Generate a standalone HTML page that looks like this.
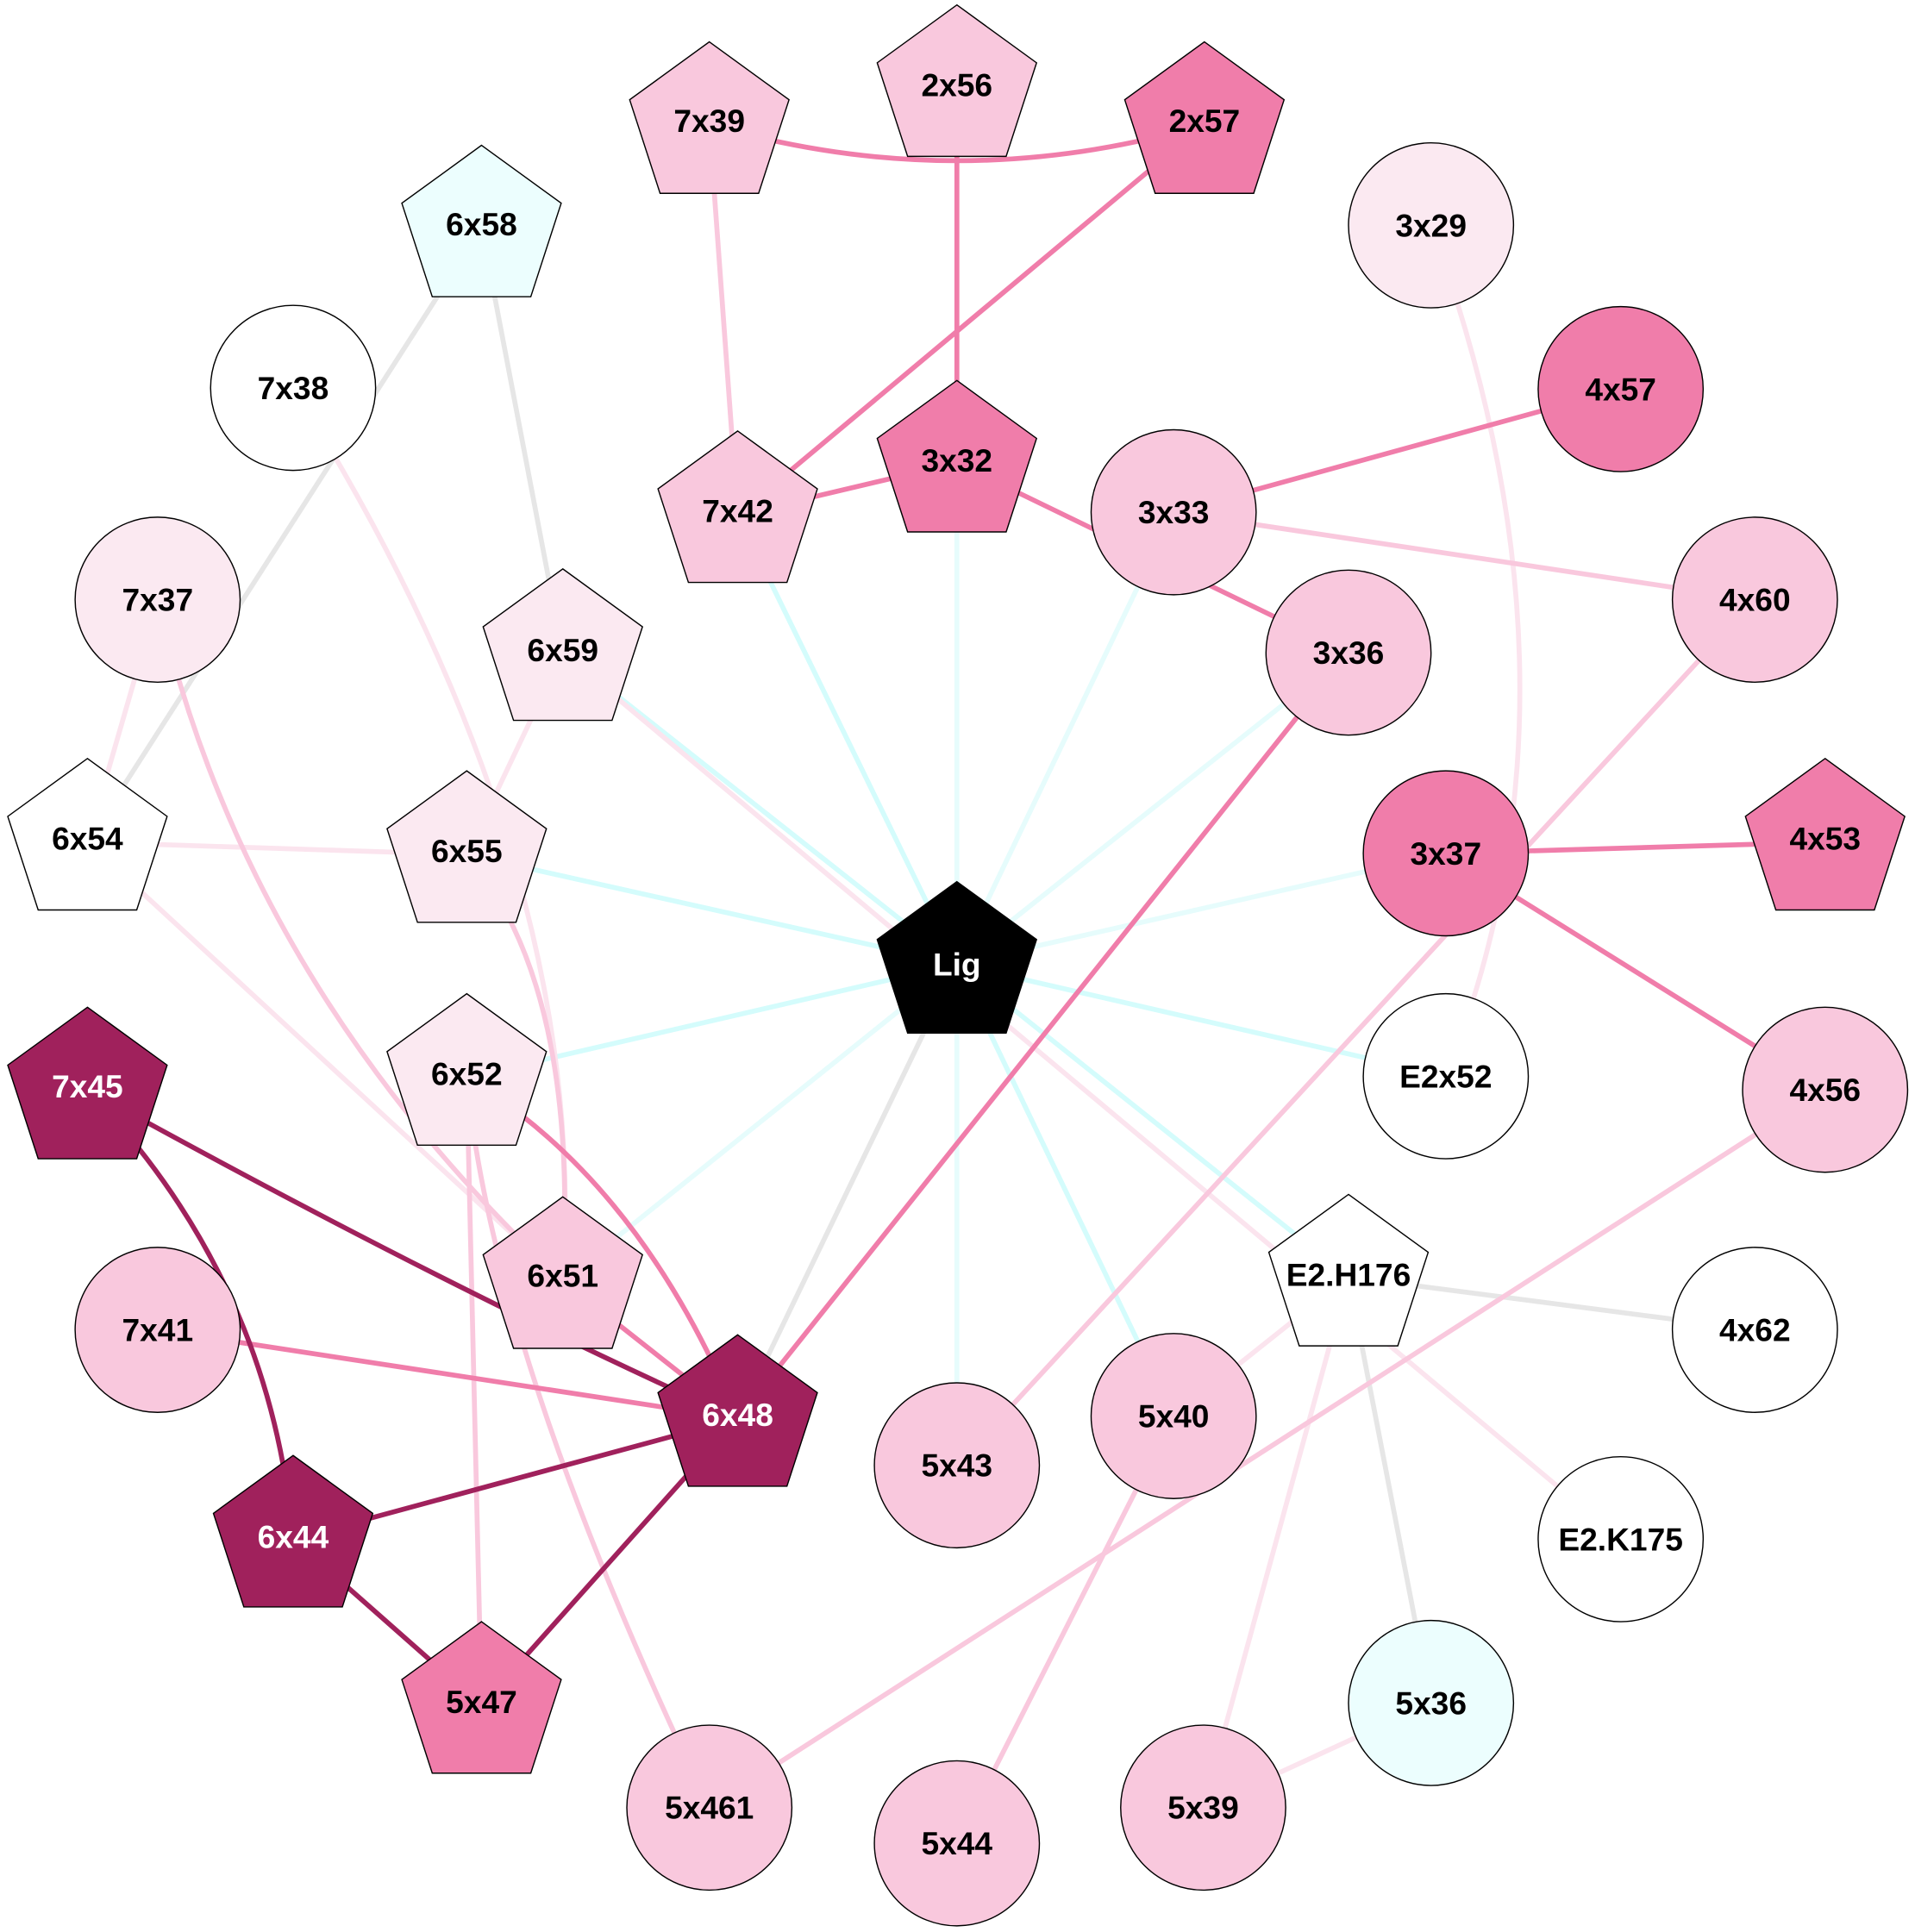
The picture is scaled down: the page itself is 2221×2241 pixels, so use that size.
<!DOCTYPE html>
<html><head><meta charset="utf-8"><style>html,body{margin:0;padding:0;background:#fff}svg{display:block}</style></head>
<body>
<svg width="2221" height="2241" viewBox="0 0 1555 1569" xmlns="http://www.w3.org/2000/svg">
<defs>
<polygon id="p" points="0,-68 64.7,-21 40,55 -40,55 -64.7,-21" stroke="#000" stroke-width="1"/>
</defs>
<g fill="none" stroke-width="4">
<g stroke="#d4fcfc">
<line x1="777" y1="783" x2="457" y2="530"/>
<line x1="777" y1="783" x2="379" y2="694"/>
<line x1="777" y1="783" x2="379" y2="875"/>
<line x1="777" y1="783" x2="457" y2="1040" stroke="#e6fcfc"/>
<line x1="777" y1="783" x2="599" y2="418"/>
<line x1="777" y1="783" x2="777" y2="376" stroke="#e6fcfc"/>
<line x1="777" y1="783" x2="953" y2="416" stroke="#e6fcfc"/>
<line x1="777" y1="783" x2="1095" y2="530" stroke="#e6fcfc"/>
<line x1="777" y1="783" x2="1174" y2="693" stroke="#e6fcfc"/>
<line x1="777" y1="783" x2="1174" y2="874"/>
<line x1="777" y1="783" x2="1095" y2="1037"/>
<line x1="777" y1="783" x2="777" y2="1190" stroke="#e6fcfc"/>
<line x1="777" y1="783" x2="953" y2="1150"/>
</g>
<g stroke="#e6e6e6">
<line x1="391" y1="185" x2="71" y2="684"/>
<line x1="391" y1="185" x2="457" y2="530"/>
<line x1="777" y1="783" x2="599" y2="1152"/>
<line x1="1095" y1="1037" x2="1425" y2="1080"/>
<line x1="1095" y1="1037" x2="1162" y2="1383"/>
</g>
<g stroke="#fbe4ee">
<path d="M1162,183 Q1300,560 1174,874"/>
<path d="M238,315 Q480,700 457,1040"/>
<line x1="71" y1="684" x2="379" y2="694"/>
<line x1="128" y1="487" x2="71" y2="684"/>
<line x1="457" y1="530" x2="379" y2="694"/>
<line x1="457" y1="530" x2="1316" y2="1250"/>
<line x1="71" y1="684" x2="457" y2="1040"/>
<line x1="977" y1="1468" x2="1095" y2="1037"/>
<line x1="977" y1="1468" x2="1162" y2="1383"/>
<line x1="1095" y1="1037" x2="953" y2="1150"/>
</g>
<g stroke="#f9c8dd">
<line x1="576" y1="101" x2="599" y2="418"/>
<line x1="953" y1="416" x2="1425" y2="487"/>
<line x1="1425" y1="487" x2="777" y2="1190"/>
<line x1="1482" y1="885" x2="576" y2="1468"/>
<line x1="953" y1="1150" x2="777" y2="1497"/>
<path d="M128,487 Q200,800 457,1040"/>
<path d="M379,694 Q470,800 457,1040"/>
<line x1="379" y1="875" x2="391" y2="1385"/>
<path d="M379,875 Q400,1100 576,1468"/>
</g>
<g stroke="#f07daa">
<path d="M576,101 Q777,160 978,101"/>
<line x1="777" y1="71" x2="777" y2="376"/>
<line x1="978" y1="101" x2="599" y2="418"/>
<line x1="599" y1="418" x2="777" y2="376"/>
<path d="M777,376 Q930,450 1095,530"/>
<line x1="953" y1="416" x2="1316" y2="316"/>
<line x1="1174" y1="693" x2="1482" y2="684"/>
<line x1="1174" y1="693" x2="1482" y2="885"/>
<line x1="1095" y1="530" x2="599" y2="1152"/>
<line x1="128" y1="1080" x2="599" y2="1152"/>
<path d="M379,875 Q520,960 599,1152"/>
<line x1="457" y1="1040" x2="599" y2="1152"/>
</g>
<g stroke="#a0215c">
<path d="M71,885 Q370,1050 599,1152"/>
<path d="M71,885 Q220,1040 238,1250"/>
<line x1="238" y1="1250" x2="599" y2="1152"/>
<line x1="238" y1="1250" x2="391" y2="1385"/>
<line x1="391" y1="1385" x2="599" y2="1152"/>
</g>
</g>
<g stroke="#000" stroke-width="1">
<circle cx="1162" cy="183" r="67" fill="#fbe9f1"/>
<circle cx="238" cy="315" r="67" fill="#fff"/>
<circle cx="1316" cy="316" r="67" fill="#f07daa"/>
<circle cx="953" cy="416" r="67" fill="#f9c8dd"/>
<circle cx="128" cy="487" r="67" fill="#fbe9f1"/>
<circle cx="1425" cy="487" r="67" fill="#f9c8dd"/>
<circle cx="1095" cy="530" r="67" fill="#f9c8dd"/>
<circle cx="1174" cy="693" r="67" fill="#f07daa"/>
<circle cx="1174" cy="874" r="67" fill="#fff"/>
<circle cx="1482" cy="885" r="67" fill="#f9c8dd"/>
<circle cx="128" cy="1080" r="67" fill="#f9c8dd"/>
<circle cx="1425" cy="1080" r="67" fill="#fff"/>
<circle cx="953" cy="1150" r="67" fill="#f9c8dd"/>
<circle cx="777" cy="1190" r="67" fill="#f9c8dd"/>
<circle cx="1316" cy="1250" r="67" fill="#fff"/>
<circle cx="1162" cy="1383" r="67" fill="#ecfefe"/>
<circle cx="576" cy="1468" r="67" fill="#f9c8dd"/>
<circle cx="977" cy="1468" r="67" fill="#f9c8dd"/>
<circle cx="777" cy="1497" r="67" fill="#f9c8dd"/>
</g>
<use href="#p" x="777" y="72" fill="#f9c8dd"/>
<use href="#p" x="576" y="102" fill="#f9c8dd"/>
<use href="#p" x="978" y="102" fill="#f07daa"/>
<use href="#p" x="391" y="186" fill="#ecfefe"/>
<use href="#p" x="599" y="418" fill="#f9c8dd"/>
<use href="#p" x="777" y="377" fill="#f07daa"/>
<use href="#p" x="457" y="530" fill="#fbe9f1"/>
<use href="#p" x="379" y="694" fill="#fbe9f1"/>
<use href="#p" x="71" y="684" fill="#fff"/>
<use href="#p" x="1482" y="684" fill="#f07daa"/>
<use href="#p" x="777" y="784" fill="#000"/>
<use href="#p" x="379" y="875" fill="#fbe9f1"/>
<use href="#p" x="71" y="886" fill="#a0215c"/>
<use href="#p" x="457" y="1040" fill="#f9c8dd"/>
<use href="#p" x="1095" y="1038" fill="#fff"/>
<use href="#p" x="599" y="1152" fill="#a0215c"/>
<use href="#p" x="238" y="1250" fill="#a0215c"/>
<use href="#p" x="391" y="1385" fill="#f07daa"/>
<g font-family="Liberation Sans, sans-serif" font-weight="bold" font-size="26" text-anchor="middle" dominant-baseline="central" fill="#000">
<text x="1162" y="183">3x29</text><text x="238" y="315">7x38</text><text x="1316" y="316">4x57</text>
<text x="953" y="416">3x33</text><text x="128" y="487">7x37</text><text x="1425" y="487">4x60</text>
<text x="1095" y="530">3x36</text><text x="1174" y="693">3x37</text><text x="1174" y="874">E2x52</text>
<text x="1482" y="885">4x56</text><text x="128" y="1080">7x41</text><text x="1425" y="1080">4x62</text>
<text x="953" y="1150">5x40</text><text x="777" y="1190">5x43</text><text x="1316" y="1250">E2.K175</text>
<text x="1162" y="1383">5x36</text><text x="576" y="1468">5x461</text><text x="977" y="1468">5x39</text>
<text x="777" y="1497">5x44</text>
<text x="777" y="69">2x56</text><text x="576" y="98">7x39</text><text x="978" y="98">2x57</text>
<text x="391" y="182">6x58</text><text x="599" y="415">7x42</text><text x="777" y="374">3x32</text>
<text x="457" y="528">6x59</text><text x="379" y="691">6x55</text><text x="71" y="681">6x54</text>
<text x="1482" y="681">4x53</text><text x="379" y="872">6x52</text>
<text x="457" y="1036">6x51</text><text x="1095" y="1035">E2.H176</text>
<g fill="#fff"><text x="777" y="783">Lig</text><text x="71" y="882">7x45</text><text x="599" y="1149">6x48</text><text x="238" y="1248">6x44</text></g>
<text x="391" y="1382">5x47</text>
</g>
</svg>
</body></html>
